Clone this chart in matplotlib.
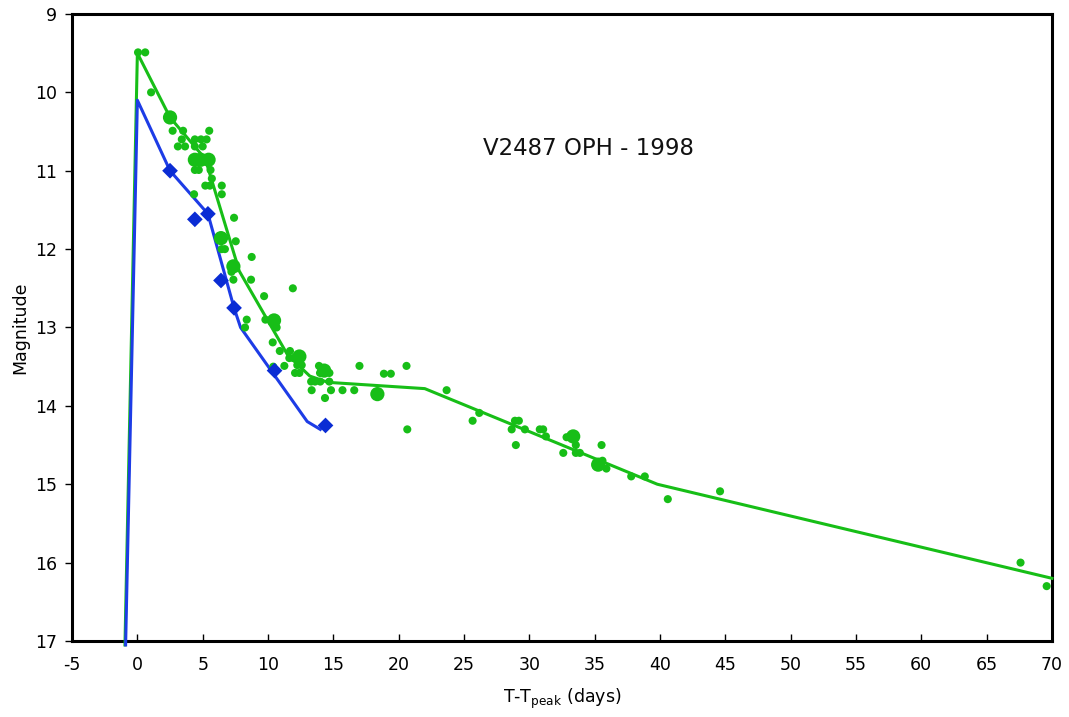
import matplotlib
matplotlib.use("Agg")
import matplotlib.pyplot as plt

# Visual estimates (observer reports)
vis_t = [0.05, 0.6, 1.05, 2.7, 3.5, 5.5, 3.4, 4.4, 4.87, 5.3, 3.1, 3.65, 4.4, 5.0,
         4.4, 4.7, 5.6, 5.7, 5.2, 5.55, 6.46, 6.46, 4.34, 7.4, 6.45, 6.7, 7.53, 8.75,
         7.2, 7.35, 8.7, 11.9, 9.7, 8.37, 8.24, 9.8, 10.66, 10.36, 10.9, 11.68, 11.63,
         11.94, 11.25, 12.24, 12.58, 13.9, 17.0, 12.07, 12.4, 13.98, 14.7, 13.3, 13.6,
         14.0, 14.69, 13.34, 14.82, 15.7, 16.6, 14.36, 10.4, 20.6, 18.87, 19.4, 20.66,
         23.67, 26.17, 25.66, 28.9, 29.2, 28.65, 29.66, 30.8, 31.06, 31.27, 28.97,
         32.85, 33.56, 32.6, 33.56, 33.87, 35.53, 35.6, 35.9, 37.8, 38.84, 40.6, 44.6,
         67.6, 69.6]
vis_mag = [9.49, 9.49, 10.0, 10.49, 10.49, 10.49, 10.6, 10.6, 10.6, 10.6, 10.69, 10.69,
           10.69, 10.69, 10.99, 10.99, 10.99, 11.1, 11.19, 11.19, 11.19, 11.3, 11.3, 11.6,
           12.0, 12.0, 11.9, 12.1, 12.29, 12.39, 12.39, 12.5, 12.6, 12.9, 13.0, 12.9, 13.0,
           13.19, 13.3, 13.3, 13.39, 13.39, 13.49, 13.48, 13.48, 13.49, 13.49, 13.58,
           13.58, 13.58, 13.58, 13.69, 13.69, 13.69, 13.69, 13.8, 13.8, 13.8, 13.8, 13.9,
           13.5, 13.49, 13.59, 13.59, 14.3, 13.8, 14.09, 14.19, 14.19, 14.19, 14.3, 14.3,
           14.3, 14.3, 14.39, 14.5, 14.4, 14.5, 14.6, 14.6, 14.6, 14.5, 14.7, 14.8, 14.9,
           14.9, 15.19, 15.09, 16.0, 16.3]

# Averaged nightly means (larger symbols)
avg_t = [2.5, 4.4, 5.45, 4.85, 6.4, 7.35, 10.46, 12.4, 14.3, 18.37, 33.36, 35.27]
avg_mag = [10.32, 10.86, 10.86, 10.86, 11.86, 12.22, 12.91, 13.37, 13.55, 13.85, 14.39, 14.75]

# Visual light-curve trend
vis_trend_t = [-0.95, 0.0, 2.5, 5.2, 7.8, 11.5, 13.2, 14.6, 22.0, 39.8, 70.0]
vis_trend_mag = [17.05, 9.5, 10.32, 10.85, 12.28, 13.35, 13.62, 13.7, 13.78, 15.0, 16.2]

# CCD V-band measurements and trend
ccd_t = [2.5, 4.4, 5.4, 6.4, 7.4, 10.5, 14.4]
ccd_mag = [11.0, 11.62, 11.55, 12.4, 12.75, 13.55, 14.25]
ccd_trend_t = [-0.9, 0.0, 2.5, 5.4, 7.4, 7.9, 13.0, 14.0]
ccd_trend_mag = [17.05, 10.1, 11.0, 11.55, 12.75, 13.0, 14.2, 14.3]

x_ticks = list(range(-5, 71, 5))
y_ticks = list(range(9, 18))

GREEN = "#17BE17"
BLUE_LINE = "#1D3CE6"
BLUE_PT = "#0A2CD4"

plt.rcParams["font.family"] = ["DejaVu Sans"]
plt.rcParams["axes.unicode_minus"] = False

fig = plt.figure(figsize=(10.69, 7.17), dpi=100)
ax = fig.add_axes([0.0674, 0.106, 0.9166, 0.8745])

ax.plot(vis_trend_t, vis_trend_mag, color=GREEN, lw=2.2, zorder=3, clip_on=False,
        solid_joinstyle="round")
ax.plot(ccd_trend_t, ccd_trend_mag, color=BLUE_LINE, lw=2.2, zorder=3, clip_on=False,
        solid_joinstyle="round")

ax.scatter(vis_t, vis_mag, s=34, color=GREEN, edgecolors="none", zorder=4)
ax.scatter(avg_t, avg_mag, s=105, color=GREEN, edgecolors="none", zorder=4)
ax.scatter(ccd_t, ccd_mag, s=64, marker="D", color=BLUE_PT, edgecolors="none", zorder=5)

ax.text(34.5, 10.71, "V2487 OPH - 1998", fontsize=16.5, ha="center", va="center",
        color="#111111")

ax.set_xlim(-5, 70)
ax.set_ylim(17, 9)
ax.set_xticks(x_ticks)
ax.set_yticks(y_ticks)
ax.tick_params(axis="x", direction="in", length=5, width=1, labelsize=12.5, pad=11)
ax.tick_params(axis="y", direction="out", length=5, width=1, labelsize=12.5, pad=6)
for sp in ax.spines.values():
    sp.set_linewidth(2.2)
    sp.set_color("black")

ax.set_xlabel(r"T-T$_{\rm peak}$ (days)", fontsize=12.5, labelpad=9)
ax.set_ylabel("Magnitude", fontsize=12.5, labelpad=4)

fig.savefig("out.png", dpi=100)
